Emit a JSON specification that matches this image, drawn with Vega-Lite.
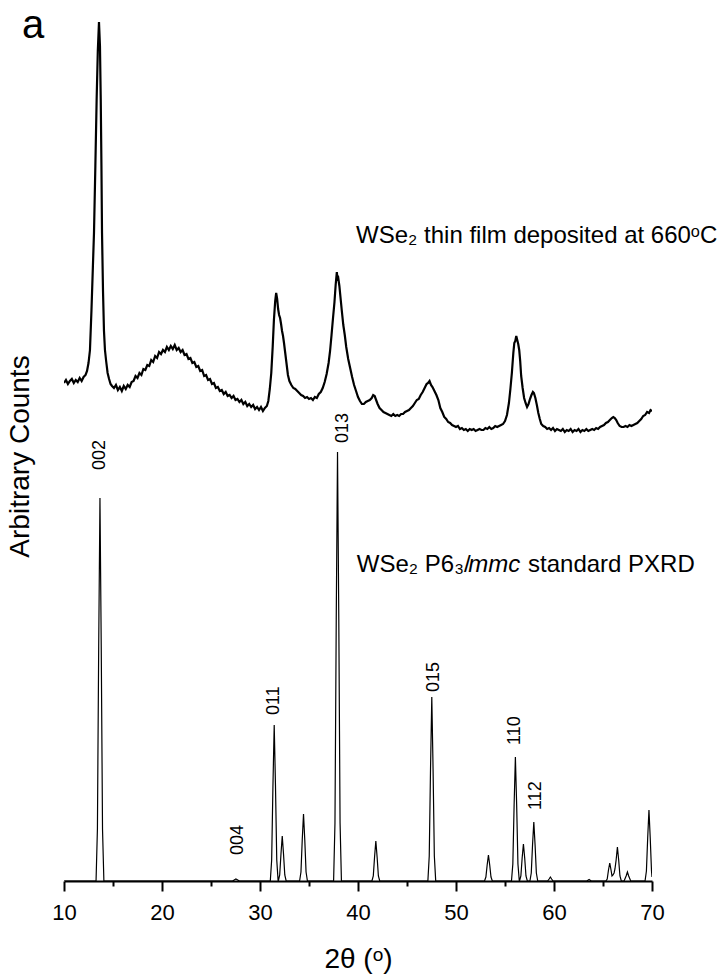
{
  "$schema": "https://vega.github.io/schema/vega-lite/v6.json",
  "width": 588,
  "height": 870,
  "autosize": {"type": "none"},
  "padding": {"left": 64, "top": 11, "right": 70, "bottom": 94},
  "background": "white",
  "config": {
    "view": {"stroke": null},
    "font": "Liberation Sans",
    "axis": {"labelFont": "Liberation Sans", "titleFont": "Liberation Sans", "titleFontWeight": "normal", "labelColor": "black", "titleColor": "black", "domainColor": "black", "tickColor": "black"}
  },
  "title": {
    "text": "a",
    "anchor": "start",
    "frame": "group",
    "font": "Liberation Sans",
    "fontSize": 40,
    "fontWeight": "normal",
    "color": "black",
    "dx": -42,
    "dy": 35,
    "offset": 0
  },
  "datasets": {
    "standard": [
      {"theta": 10.0, "counts": 0},
      {"theta": 13.27, "counts": 0}, {"theta": 13.41, "counts": 52}, {"theta": 13.54, "counts": 234}, {"theta": 13.67, "counts": 383}, {"theta": 13.8, "counts": 234}, {"theta": 13.93, "counts": 52}, {"theta": 14.07, "counts": 0},
      {"theta": 27.2, "counts": 0}, {"theta": 27.54, "counts": 2}, {"theta": 27.9, "counts": 0},
      {"theta": 31.05, "counts": 0}, {"theta": 31.19, "counts": 21}, {"theta": 31.32, "counts": 95}, {"theta": 31.45, "counts": 156}, {"theta": 31.58, "counts": 95}, {"theta": 31.71, "counts": 21}, {"theta": 31.85, "counts": 0},
      {"theta": 31.87, "counts": 0}, {"theta": 32.01, "counts": 6}, {"theta": 32.14, "counts": 27}, {"theta": 32.27, "counts": 45}, {"theta": 32.4, "counts": 27}, {"theta": 32.53, "counts": 6}, {"theta": 32.67, "counts": 0},
      {"theta": 34.04, "counts": 0}, {"theta": 34.18, "counts": 9}, {"theta": 34.31, "counts": 41}, {"theta": 34.44, "counts": 67}, {"theta": 34.57, "counts": 41}, {"theta": 34.7, "counts": 9}, {"theta": 34.84, "counts": 0},
      {"theta": 37.51, "counts": 0}, {"theta": 37.65, "counts": 58}, {"theta": 37.78, "counts": 262}, {"theta": 37.91, "counts": 429}, {"theta": 38.04, "counts": 262}, {"theta": 38.17, "counts": 58}, {"theta": 38.31, "counts": 0},
      {"theta": 41.42, "counts": 0}, {"theta": 41.56, "counts": 5}, {"theta": 41.69, "counts": 24}, {"theta": 41.82, "counts": 40}, {"theta": 41.95, "counts": 24}, {"theta": 42.08, "counts": 5}, {"theta": 42.22, "counts": 0},
      {"theta": 47.13, "counts": 0}, {"theta": 47.27, "counts": 25}, {"theta": 47.4, "counts": 112}, {"theta": 47.53, "counts": 184}, {"theta": 47.66, "counts": 112}, {"theta": 47.79, "counts": 25}, {"theta": 47.93, "counts": 0},
      {"theta": 52.91, "counts": 0}, {"theta": 53.05, "counts": 4}, {"theta": 53.18, "counts": 16}, {"theta": 53.31, "counts": 26}, {"theta": 53.44, "counts": 16}, {"theta": 53.57, "counts": 4}, {"theta": 53.71, "counts": 0},
      {"theta": 55.66, "counts": 0}, {"theta": 55.8, "counts": 17}, {"theta": 55.93, "counts": 76}, {"theta": 56.06, "counts": 124}, {"theta": 56.19, "counts": 76}, {"theta": 56.32, "counts": 17}, {"theta": 56.46, "counts": 0},
      {"theta": 56.48, "counts": 0}, {"theta": 56.62, "counts": 5}, {"theta": 56.75, "counts": 23}, {"theta": 56.88, "counts": 37}, {"theta": 57.01, "counts": 23}, {"theta": 57.14, "counts": 5}, {"theta": 57.28, "counts": 0},
      {"theta": 57.54, "counts": 0}, {"theta": 57.68, "counts": 8}, {"theta": 57.81, "counts": 36}, {"theta": 57.94, "counts": 59}, {"theta": 58.07, "counts": 36}, {"theta": 58.2, "counts": 8}, {"theta": 58.34, "counts": 0},
      {"theta": 59.35, "counts": 0}, {"theta": 59.5, "counts": 2}, {"theta": 59.63, "counts": 4}, {"theta": 59.76, "counts": 2}, {"theta": 59.9, "counts": 0},
      {"theta": 63.35, "counts": 0}, {"theta": 63.58, "counts": 1.5}, {"theta": 63.8, "counts": 0},
      {"theta": 65.29, "counts": 0}, {"theta": 65.43, "counts": 2}, {"theta": 65.56, "counts": 11}, {"theta": 65.69, "counts": 18}, {"theta": 65.82, "counts": 11}, {"theta": 65.92, "counts": 5}, {"theta": 66.02, "counts": 6}, {"theta": 66.13, "counts": 8}, {"theta": 66.22, "counts": 12}, {"theta": 66.34, "counts": 21}, {"theta": 66.47, "counts": 34}, {"theta": 66.6, "counts": 21}, {"theta": 66.73, "counts": 5}, {"theta": 66.87, "counts": 0},
      {"theta": 67.15, "counts": 0}, {"theta": 67.36, "counts": 5}, {"theta": 67.49, "counts": 9}, {"theta": 67.62, "counts": 5}, {"theta": 67.83, "counts": 0},
      {"theta": 69.29, "counts": 0}, {"theta": 69.43, "counts": 10}, {"theta": 69.56, "counts": 43}, {"theta": 69.69, "counts": 71}, {"theta": 69.82, "counts": 43}, {"theta": 69.95, "counts": 10}, {"theta": 70.0, "counts": 4}
    ],
    "film": [
      {"theta": 10.0, "counts": 498}, {"theta": 10.2, "counts": 501}, {"theta": 10.4, "counts": 497}, {"theta": 10.6, "counts": 500}, {"theta": 10.8, "counts": 502}, {"theta": 11.0, "counts": 498}, {"theta": 11.2, "counts": 501}, {"theta": 11.4, "counts": 499}, {"theta": 11.6, "counts": 503}, {"theta": 11.8, "counts": 500}, {"theta": 12.0, "counts": 504}, {"theta": 12.2, "counts": 506}, {"theta": 12.35, "counts": 510}, {"theta": 12.5, "counts": 518},
      {"theta": 12.65, "counts": 531}, {"theta": 12.8, "counts": 570}, {"theta": 12.95, "counts": 615}, {"theta": 13.06, "counts": 648}, {"theta": 13.2, "counts": 715}, {"theta": 13.33, "counts": 781}, {"theta": 13.45, "counts": 830}, {"theta": 13.57, "counts": 859}, {"theta": 13.67, "counts": 835}, {"theta": 13.75, "counts": 781}, {"theta": 13.82, "counts": 715}, {"theta": 13.88, "counts": 648}, {"theta": 13.98, "counts": 590}, {"theta": 14.08, "counts": 550}, {"theta": 14.18, "counts": 531}, {"theta": 14.3, "counts": 520}, {"theta": 14.45, "counts": 508}, {"theta": 14.6, "counts": 502}, {"theta": 14.75, "counts": 497}, {"theta": 14.9, "counts": 495},
      {"theta": 15.1, "counts": 493}, {"theta": 15.3, "counts": 496}, {"theta": 15.5, "counts": 491}, {"theta": 15.7, "counts": 494}, {"theta": 15.9, "counts": 490}, {"theta": 16.1, "counts": 495}, {"theta": 16.3, "counts": 492}, {"theta": 16.5, "counts": 496}, {"theta": 16.7, "counts": 494}, {"theta": 16.9, "counts": 499},
      {"theta": 17.1, "counts": 500}, {"theta": 17.3, "counts": 505}, {"theta": 17.5, "counts": 503}, {"theta": 17.7, "counts": 508}, {"theta": 17.9, "counts": 506}, {"theta": 18.1, "counts": 512}, {"theta": 18.3, "counts": 511}, {"theta": 18.5, "counts": 516}, {"theta": 18.7, "counts": 515}, {"theta": 18.9, "counts": 521},
      {"theta": 19.1, "counts": 519}, {"theta": 19.3, "counts": 525}, {"theta": 19.5, "counts": 523}, {"theta": 19.7, "counts": 529}, {"theta": 19.9, "counts": 527}, {"theta": 20.1, "counts": 531}, {"theta": 20.3, "counts": 529}, {"theta": 20.5, "counts": 534}, {"theta": 20.7, "counts": 531}, {"theta": 20.9, "counts": 535},
      {"theta": 21.1, "counts": 532}, {"theta": 21.3, "counts": 536}, {"theta": 21.5, "counts": 531}, {"theta": 21.7, "counts": 533}, {"theta": 21.9, "counts": 529}, {"theta": 22.1, "counts": 531}, {"theta": 22.3, "counts": 526}, {"theta": 22.5, "counts": 527}, {"theta": 22.7, "counts": 522}, {"theta": 22.9, "counts": 523},
      {"theta": 23.1, "counts": 518}, {"theta": 23.3, "counts": 519}, {"theta": 23.5, "counts": 514}, {"theta": 23.7, "counts": 515}, {"theta": 23.9, "counts": 510}, {"theta": 24.1, "counts": 511}, {"theta": 24.3, "counts": 505}, {"theta": 24.5, "counts": 506}, {"theta": 24.7, "counts": 501}, {"theta": 24.9, "counts": 502},
      {"theta": 25.1, "counts": 497}, {"theta": 25.3, "counts": 498}, {"theta": 25.5, "counts": 493}, {"theta": 25.7, "counts": 494}, {"theta": 25.9, "counts": 490}, {"theta": 26.1, "counts": 491}, {"theta": 26.3, "counts": 487}, {"theta": 26.5, "counts": 489}, {"theta": 26.7, "counts": 485}, {"theta": 26.9, "counts": 486},
      {"theta": 27.1, "counts": 483}, {"theta": 27.3, "counts": 485}, {"theta": 27.5, "counts": 481}, {"theta": 27.7, "counts": 482}, {"theta": 27.9, "counts": 479}, {"theta": 28.1, "counts": 481}, {"theta": 28.3, "counts": 477}, {"theta": 28.5, "counts": 479}, {"theta": 28.7, "counts": 475}, {"theta": 28.9, "counts": 477},
      {"theta": 29.1, "counts": 474}, {"theta": 29.3, "counts": 476}, {"theta": 29.5, "counts": 472}, {"theta": 29.7, "counts": 474}, {"theta": 29.9, "counts": 471}, {"theta": 30.1, "counts": 474}, {"theta": 30.3, "counts": 470}, {"theta": 30.5, "counts": 473}, {"theta": 30.7, "counts": 475}, {"theta": 30.85, "counts": 480},
      {"theta": 31.0, "counts": 492}, {"theta": 31.15, "counts": 508}, {"theta": 31.3, "counts": 535}, {"theta": 31.42, "counts": 561}, {"theta": 31.55, "counts": 580}, {"theta": 31.65, "counts": 588}, {"theta": 31.75, "counts": 582}, {"theta": 31.85, "counts": 572}, {"theta": 31.95, "counts": 566}, {"theta": 32.05, "counts": 563}, {"theta": 32.15, "counts": 557}, {"theta": 32.25, "counts": 550}, {"theta": 32.35, "counts": 545}, {"theta": 32.45, "counts": 538}, {"theta": 32.55, "counts": 530}, {"theta": 32.7, "counts": 518}, {"theta": 32.85, "counts": 506},
      {"theta": 33.0, "counts": 500}, {"theta": 33.2, "counts": 496}, {"theta": 33.4, "counts": 493}, {"theta": 33.6, "counts": 492}, {"theta": 33.8, "counts": 490}, {"theta": 34.0, "counts": 488}, {"theta": 34.2, "counts": 486}, {"theta": 34.4, "counts": 485}, {"theta": 34.6, "counts": 483}, {"theta": 34.8, "counts": 484},
      {"theta": 35.0, "counts": 482}, {"theta": 35.2, "counts": 483}, {"theta": 35.4, "counts": 481}, {"theta": 35.6, "counts": 484}, {"theta": 35.8, "counts": 483}, {"theta": 36.0, "counts": 487}, {"theta": 36.2, "counts": 489}, {"theta": 36.4, "counts": 493}, {"theta": 36.6, "counts": 499}, {"theta": 36.8, "counts": 507},
      {"theta": 37.0, "counts": 518}, {"theta": 37.15, "counts": 530}, {"theta": 37.3, "counts": 546}, {"theta": 37.45, "counts": 563}, {"theta": 37.6, "counts": 579}, {"theta": 37.72, "counts": 596}, {"theta": 37.84, "counts": 609}, {"theta": 37.92, "counts": 600}, {"theta": 38.0, "counts": 602}, {"theta": 38.1, "counts": 595}, {"theta": 38.2, "counts": 585}, {"theta": 38.35, "counts": 570}, {"theta": 38.5, "counts": 556}, {"theta": 38.65, "counts": 546}, {"theta": 38.8, "counts": 534},
      {"theta": 39.0, "counts": 522}, {"theta": 39.2, "counts": 513}, {"theta": 39.4, "counts": 504}, {"theta": 39.6, "counts": 496}, {"theta": 39.8, "counts": 490}, {"theta": 40.0, "counts": 484}, {"theta": 40.2, "counts": 480}, {"theta": 40.4, "counts": 477}, {"theta": 40.6, "counts": 477}, {"theta": 40.8, "counts": 479},
      {"theta": 41.0, "counts": 480}, {"theta": 41.2, "counts": 481}, {"theta": 41.4, "counts": 483}, {"theta": 41.55, "counts": 486}, {"theta": 41.7, "counts": 485}, {"theta": 41.85, "counts": 481}, {"theta": 42.0, "counts": 477}, {"theta": 42.2, "counts": 473}, {"theta": 42.4, "counts": 471}, {"theta": 42.6, "counts": 469}, {"theta": 42.8, "counts": 468},
      {"theta": 43.0, "counts": 467}, {"theta": 43.2, "counts": 466}, {"theta": 43.4, "counts": 465}, {"theta": 43.6, "counts": 467}, {"theta": 43.8, "counts": 465}, {"theta": 44.0, "counts": 466}, {"theta": 44.2, "counts": 465}, {"theta": 44.4, "counts": 467}, {"theta": 44.6, "counts": 467}, {"theta": 44.8, "counts": 469},
      {"theta": 45.0, "counts": 470}, {"theta": 45.2, "counts": 471}, {"theta": 45.4, "counts": 473}, {"theta": 45.6, "counts": 475}, {"theta": 45.8, "counts": 478}, {"theta": 46.0, "counts": 481}, {"theta": 46.2, "counts": 482}, {"theta": 46.4, "counts": 486}, {"theta": 46.6, "counts": 489}, {"theta": 46.8, "counts": 493},
      {"theta": 47.0, "counts": 497}, {"theta": 47.15, "counts": 498}, {"theta": 47.3, "counts": 500}, {"theta": 47.45, "counts": 496}, {"theta": 47.6, "counts": 494}, {"theta": 47.8, "counts": 490}, {"theta": 48.0, "counts": 486}, {"theta": 48.2, "counts": 481}, {"theta": 48.4, "counts": 473}, {"theta": 48.6, "counts": 469}, {"theta": 48.8, "counts": 464},
      {"theta": 49.0, "counts": 462}, {"theta": 49.2, "counts": 459}, {"theta": 49.4, "counts": 458}, {"theta": 49.6, "counts": 456}, {"theta": 49.8, "counts": 455}, {"theta": 50.0, "counts": 454}, {"theta": 50.2, "counts": 455}, {"theta": 50.4, "counts": 452}, {"theta": 50.6, "counts": 453}, {"theta": 50.8, "counts": 451},
      {"theta": 51.0, "counts": 452}, {"theta": 51.2, "counts": 450}, {"theta": 51.4, "counts": 452}, {"theta": 51.6, "counts": 451}, {"theta": 51.8, "counts": 452}, {"theta": 52.0, "counts": 450}, {"theta": 52.2, "counts": 451}, {"theta": 52.4, "counts": 452}, {"theta": 52.6, "counts": 451}, {"theta": 52.8, "counts": 451},
      {"theta": 53.0, "counts": 453}, {"theta": 53.2, "counts": 452}, {"theta": 53.4, "counts": 454}, {"theta": 53.6, "counts": 452}, {"theta": 53.8, "counts": 453}, {"theta": 54.0, "counts": 455}, {"theta": 54.2, "counts": 454}, {"theta": 54.4, "counts": 455}, {"theta": 54.6, "counts": 456}, {"theta": 54.8, "counts": 457},
      {"theta": 55.0, "counts": 460}, {"theta": 55.2, "counts": 466}, {"theta": 55.4, "counts": 478}, {"theta": 55.55, "counts": 492}, {"theta": 55.7, "counts": 508}, {"theta": 55.85, "counts": 528}, {"theta": 55.95, "counts": 538}, {"theta": 56.05, "counts": 540}, {"theta": 56.15, "counts": 545}, {"theta": 56.25, "counts": 541}, {"theta": 56.35, "counts": 537}, {"theta": 56.45, "counts": 531}, {"theta": 56.55, "counts": 520}, {"theta": 56.65, "counts": 505}, {"theta": 56.8, "counts": 493}, {"theta": 56.95, "counts": 483},
      {"theta": 57.1, "counts": 478}, {"theta": 57.25, "counts": 474}, {"theta": 57.4, "counts": 477}, {"theta": 57.55, "counts": 482}, {"theta": 57.7, "counts": 486}, {"theta": 57.85, "counts": 489}, {"theta": 57.95, "counts": 488}, {"theta": 58.1, "counts": 483}, {"theta": 58.25, "counts": 476}, {"theta": 58.4, "counts": 468}, {"theta": 58.55, "counts": 462}, {"theta": 58.7, "counts": 457}, {"theta": 58.9, "counts": 455},
      {"theta": 59.1, "counts": 454}, {"theta": 59.3, "counts": 452}, {"theta": 59.5, "counts": 453}, {"theta": 59.7, "counts": 451}, {"theta": 59.9, "counts": 453}, {"theta": 60.1, "counts": 450}, {"theta": 60.3, "counts": 452}, {"theta": 60.5, "counts": 451}, {"theta": 60.7, "counts": 450}, {"theta": 60.9, "counts": 452},
      {"theta": 61.1, "counts": 449}, {"theta": 61.3, "counts": 451}, {"theta": 61.5, "counts": 450}, {"theta": 61.7, "counts": 452}, {"theta": 61.9, "counts": 449}, {"theta": 62.1, "counts": 451}, {"theta": 62.3, "counts": 450}, {"theta": 62.5, "counts": 452}, {"theta": 62.7, "counts": 449}, {"theta": 62.9, "counts": 451},
      {"theta": 63.1, "counts": 450}, {"theta": 63.3, "counts": 452}, {"theta": 63.5, "counts": 450}, {"theta": 63.7, "counts": 451}, {"theta": 63.9, "counts": 452}, {"theta": 64.1, "counts": 451}, {"theta": 64.3, "counts": 453}, {"theta": 64.5, "counts": 452}, {"theta": 64.7, "counts": 454}, {"theta": 64.9, "counts": 455},
      {"theta": 65.1, "counts": 456}, {"theta": 65.3, "counts": 458}, {"theta": 65.5, "counts": 459}, {"theta": 65.7, "counts": 461}, {"theta": 65.9, "counts": 463}, {"theta": 66.05, "counts": 464}, {"theta": 66.2, "counts": 463}, {"theta": 66.35, "counts": 461}, {"theta": 66.5, "counts": 458}, {"theta": 66.7, "counts": 455}, {"theta": 66.9, "counts": 454},
      {"theta": 67.1, "counts": 454}, {"theta": 67.3, "counts": 455}, {"theta": 67.5, "counts": 454}, {"theta": 67.7, "counts": 456}, {"theta": 67.9, "counts": 455}, {"theta": 68.1, "counts": 456}, {"theta": 68.3, "counts": 457}, {"theta": 68.5, "counts": 458}, {"theta": 68.7, "counts": 460}, {"theta": 68.9, "counts": 462},
      {"theta": 69.1, "counts": 465}, {"theta": 69.3, "counts": 466}, {"theta": 69.5, "counts": 469}, {"theta": 69.7, "counts": 468}, {"theta": 69.85, "counts": 471}, {"theta": 70.0, "counts": 470}
    ],
    "reflections": [
      {"theta": 13.72, "counts": 411, "hkl": "002"},
      {"theta": 27.8, "counts": 26, "hkl": "004"},
      {"theta": 31.47, "counts": 166, "hkl": "011"},
      {"theta": 38.45, "counts": 438, "hkl": "013"},
      {"theta": 47.73, "counts": 189, "hkl": "015"},
      {"theta": 56.0, "counts": 136, "hkl": "110"},
      {"theta": 58.2, "counts": 71, "hkl": "112"}
    ],
    "notes": [
      {"theta": 39.8, "counts": 638, "text": "WSe₂ thin film deposited at 660ᵒC", "italic": false},
      {"theta": 39.88, "counts": 309, "text": "WSe₂ P6₃/", "italic": false},
      {"theta": 51.25, "counts": 309, "text": "mmc", "italic": true},
      {"theta": 57.35, "counts": 309, "text": "standard PXRD", "italic": false}
    ]
  },
  "resolve": {"axis": {"x": "independent", "y": "independent"}},
  "layer": [
    {
      "data": {"name": "standard"},
      "mark": {"type": "line", "color": "black", "strokeWidth": 1.2, "clip": true},
      "encoding": {
        "x": {
          "field": "theta", "type": "quantitative",
          "scale": {"domain": [10, 70], "nice": false, "zero": false},
          "axis": {
            "orient": "bottom",
            "title": "2θ (ᵒ)", "titleFontSize": 28, "titlePadding": 22,
            "values": [10, 20, 30, 40, 50, 60, 70],
            "labelFontSize": 22, "labelPadding": 11, "labelFlush": false,
            "tickSize": 10, "tickWidth": 2, "domainWidth": 2, "grid": false
          }
        },
        "y": {
          "field": "counts", "type": "quantitative",
          "scale": {"domain": [0, 870], "nice": false, "zero": true},
          "axis": {
            "title": "Arbitrary Counts", "titleFontSize": 28, "titleY": 445,
            "domain": false, "ticks": false, "labels": false, "grid": false,
            "titlePadding": 30
          }
        }
      }
    },
    {
      "data": {"name": "film"},
      "mark": {"type": "line", "color": "black", "strokeWidth": 2.2, "clip": true},
      "encoding": {
        "x": {
          "field": "theta", "type": "quantitative",
          "axis": {
            "orient": "bottom",
            "title": null, "values": [15, 25, 35, 45, 55, 65], "labels": false,
            "domain": false, "tickSize": 5, "tickWidth": 2, "grid": false
          }
        },
        "y": {"field": "counts", "type": "quantitative", "axis": null}
      }
    },
    {
      "data": {"name": "reflections"},
      "mark": {"type": "text", "angle": 270, "align": "left", "baseline": "middle", "fontSize": 18, "font": "Liberation Sans", "color": "black"},
      "encoding": {
        "x": {"field": "theta", "type": "quantitative", "axis": null},
        "y": {"field": "counts", "type": "quantitative", "axis": null},
        "text": {"field": "hkl"}
      }
    },
    {
      "data": {"name": "notes"},
      "transform": [{"filter": "!datum.italic"}],
      "mark": {"type": "text", "align": "left", "baseline": "alphabetic", "fontSize": 24, "font": "Liberation Sans", "color": "black"},
      "encoding": {
        "x": {"field": "theta", "type": "quantitative", "axis": null},
        "y": {"field": "counts", "type": "quantitative", "axis": null},
        "text": {"field": "text"}
      }
    },
    {
      "data": {"name": "notes"},
      "transform": [{"filter": "datum.italic"}],
      "mark": {"type": "text", "align": "left", "baseline": "alphabetic", "fontSize": 24, "fontStyle": "italic", "font": "Liberation Sans", "color": "black"},
      "encoding": {
        "x": {"field": "theta", "type": "quantitative", "axis": null},
        "y": {"field": "counts", "type": "quantitative", "axis": null},
        "text": {"field": "text"}
      }
    }
  ]
}
